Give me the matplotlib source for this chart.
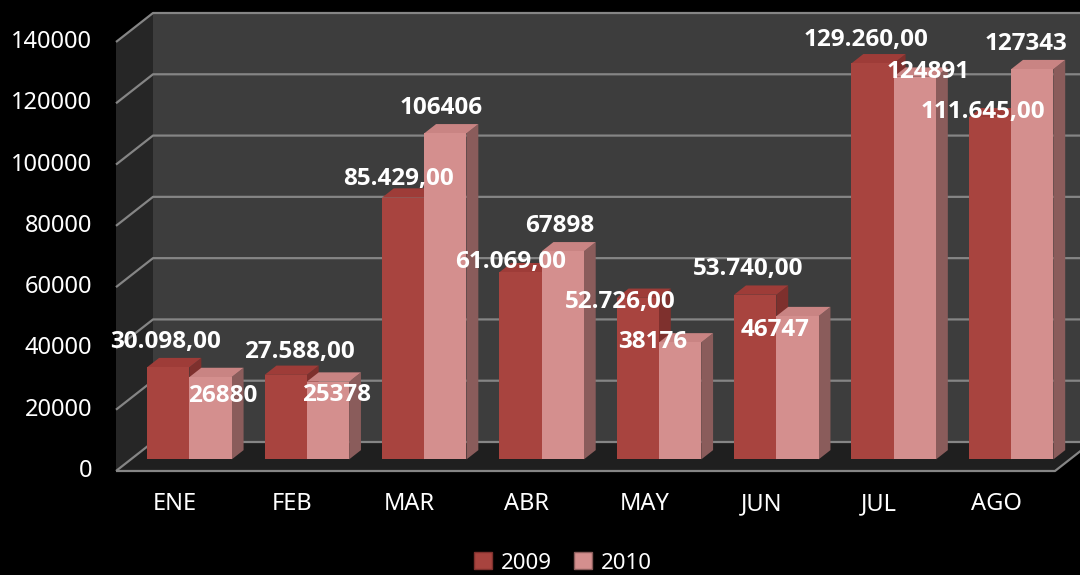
import matplotlib.pyplot as plt
from matplotlib.patches import Polygon, Patch

months = ['ENE', 'FEB', 'MAR', 'ABR', 'MAY', 'JUN', 'JUL', 'AGO']
ventas_2009 = [30098, 27588, 85429, 61069, 52726, 53740, 129260, 111645]
ventas_2010 = [26880, 25378, 106406, 67898, 38176, 46747, 124891, 127343]
y_ticks = [0, 20000, 40000, 60000, 80000, 100000, 120000, 140000]

# where Excel left the data labels, pixel offsets from each bar's top front centre
offsets_2009 = [(-3, 25), (14, 23), (-5, 19), (-10, 10), (-18, -4), (-7, 26), (-7, 23), (-7, 5)]
offsets_2010 = [(12, -19), (9, -13), (-4, 25), (-3, 25), (-27, 0), (-22, -14), (13, 5), (-6, 25)]

plt.rcParams['font.family'] = ['Noto Sans', 'DejaVu Sans']
label_font = ['Open Sans', 'DejaVu Sans']

# colours: front, top, side
red_2009 = ('#a8443f', '#9e3c38', '#7e302d')
pink_2010 = ('#d48f8e', '#c98483', '#8a5c5b')

fig = plt.figure(figsize=(10.8, 5.75), dpi=100, facecolor='black')
# axes = the back wall of the 3D box
ax = fig.add_axes([153 / 1080, 1 - 442 / 575, 939 / 1080, 429 / 575])
ax.set_xlim(-0.5, 7.5)
ax.set_ylim(0, 140000)
ax.set_facecolor('#3d3d3d')
for s in ax.spines.values():
    s.set_visible(False)
ax.set_xticks([])
ax.set_yticks([])

# depth shift of the front plane, in data units (37 px left, 29 px down)
DX = 37 / (939 / 8)
DY = 29 * 140000 / 429


def proj(x, y, d):
    return (x - DX * d, y - DY * d)


def poly(pts, color, z):
    ax.add_patch(Polygon(pts, closed=True, facecolor=color, edgecolor='none',
                         zorder=z, clip_on=False))


x0, x1 = -0.5, 7.5
# left wall and floor
poly([proj(x0, 0, 0), proj(x0, 140000, 0), proj(x0, 140000, 1), proj(x0, 0, 1)], '#262626', 1)
poly([proj(x0, 0, 0), proj(x1, 0, 0), proj(x1, 0, 1), proj(x0, 0, 1)], '#1f1f1f', 1)

grid_kw = dict(color='#858585', lw=1.6, zorder=2, clip_on=False, solid_capstyle='butt')
for t in y_ticks:
    a, b = proj(x0, t, 1), proj(x0, t, 0)
    ax.plot([a[0], b[0], x1], [a[1], b[1], t], **grid_kw)
    ax.annotate(str(t), proj(x0, t, 1), xytext=(-24, 0), textcoords='offset pixels',
                ha='right', va='center', color='white', fontsize=17, annotation_clip=False)
# floor front edge and right slant
a, b = proj(x0, 0, 1), proj(x1, 0, 1)
ax.plot([a[0], b[0], x1], [a[1], b[1], 0], **grid_kw)

for i, m in enumerate(months):
    ax.annotate(m, proj(i, 0, 1), xytext=(0, -33), textcoords='offset pixels',
                ha='center', va='center', color='white', fontsize=17, annotation_clip=False)

w = 0.18
f, fb = 0.6, 0.28
for i in range(len(months)):
    for k, (vals, cols) in enumerate([(ventas_2009, red_2009), (ventas_2010, pink_2010)]):
        v = vals[i]
        xc = i - w if k == 0 else i + w
        xl, xr = xc - w, xc + w
        poly([proj(xr, 0, f), proj(xr, v, f), proj(xr, v, fb), proj(xr, 0, fb)], cols[2], 3)
        poly([proj(xl, v, f), proj(xr, v, f), proj(xr, v, fb), proj(xl, v, fb)], cols[1], 3)
        poly([proj(xl, 0, f), proj(xr, 0, f), proj(xr, v, f), proj(xl, v, f)], cols[0], 3)

for i in range(len(months)):
    for k, (vals, offs) in enumerate([(ventas_2009, offsets_2009), (ventas_2010, offsets_2010)]):
        v = vals[i]
        xc = i - w if k == 0 else i + w
        if k == 0:
            txt = f'{v:,.2f}'.replace(',', 'X').replace('.', ',').replace('X', '.')
        else:
            txt = str(v)
        ax.annotate(txt, proj(xc, v, f), xytext=offs[i], textcoords='offset pixels',
                    ha='center', va='center', color='white', fontsize=17.5,
                    fontweight='bold', family=label_font, zorder=5, annotation_clip=False)

handles = [Patch(facecolor=red_2009[0], edgecolor='#7e302d', label='2009'),
           Patch(facecolor=pink_2010[0], edgecolor='#8a5c5b', label='2010')]
fig.legend(handles=handles, loc='center', bbox_to_anchor=(0.521, 1 - 563 / 575), ncol=2,
           frameon=False, fontsize=16, labelcolor='white', handlelength=0.8,
           handleheight=0.8, handletextpad=0.4, columnspacing=1.0)

fig.savefig('out.png', dpi=100, facecolor='black')
